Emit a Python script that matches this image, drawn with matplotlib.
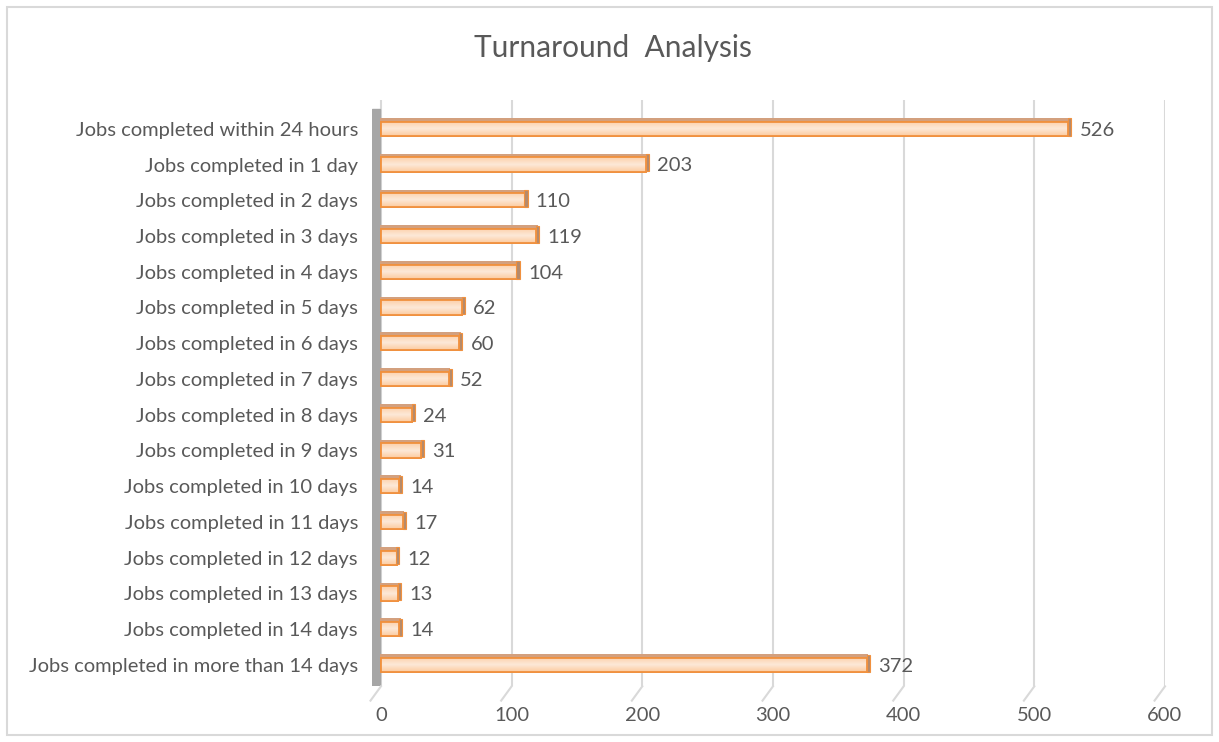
import numpy as np
import matplotlib.pyplot as plt
from matplotlib.colors import LinearSegmentedColormap
from matplotlib.patches import Rectangle

plt.rcParams['font.family'] = ['Lato', 'DejaVu Sans']

categories = ['Jobs completed within 24 hours', 'Jobs completed in 1 day', 'Jobs completed in 2 days',
              'Jobs completed in 3 days', 'Jobs completed in 4 days', 'Jobs completed in 5 days',
              'Jobs completed in 6 days', 'Jobs completed in 7 days', 'Jobs completed in 8 days',
              'Jobs completed in 9 days', 'Jobs completed in 10 days', 'Jobs completed in 11 days',
              'Jobs completed in 12 days', 'Jobs completed in 13 days', 'Jobs completed in 14 days',
              'Jobs completed in more than 14 days']
values = [526, 203, 110, 119, 104, 62, 60, 52, 24, 31, 14, 17, 12, 13, 14, 372]
x_ticks = [0, 100, 200, 300, 400, 500, 600]

grey = '#595959'
fig = plt.figure(figsize=(12.19, 7.42), dpi=100)
ax = fig.add_axes([0.305, 0.075, 0.6507, 0.79])

# outer chart border
fig.patches.append(Rectangle((0.006, 0.009), 0.988, 0.981, transform=fig.transFigure,
                             fill=False, edgecolor='#d9d9d9', lw=1.5))

y = np.arange(len(categories))[::-1]
vals = np.array(values)
h = 0.40
depth = 0.1

# top face of the 3D bars
ax.barh(y + h / 2 + depth / 2, vals + 1.5, left=-0.5, height=depth, color='#d3a07e',
        edgecolor='none', zorder=2.8)

bars = ax.barh(y, vals, height=h, color='#fcd2ac', edgecolor='#f0913f', lw=1.3, zorder=3)

# gradient fill inside each bar
cmap = LinearSegmentedColormap.from_list('peach', ['#fccb9f', '#fde9d8', '#fcd0aa'])
grad = np.linspace(0, 1, 50).reshape(-1, 1)
for b in bars:
    x0, y0 = b.get_x(), b.get_y()
    im = ax.imshow(grad, cmap=cmap, aspect='auto', origin='lower', zorder=3.5,
                   extent=[x0, x0 + b.get_width(), y0, y0 + b.get_height()])
    im.set_clip_path(b)
    ax.add_patch(Rectangle((x0, y0), b.get_width(), b.get_height(), fill=False,
                           edgecolor='#f0913f', lw=1.3, zorder=4))

# darker end face
cap = 2.5
ax.barh(y + depth / 2, [cap] * len(vals), left=vals - 0.3, height=h + depth * 0.8,
        color='#b48a6c', edgecolor='#f0913f', lw=0.8, zorder=5)

# grey side wall
ax.axvspan(-7, -1, ymin=0.0, ymax=0.985, color='#a6a6a6', zorder=2)

for yi, v in zip(y, values):
    ax.annotate(str(v), (v, yi), xytext=(8, -1), textcoords='offset points',
                va='center', ha='left', fontsize=14.5, color=grey)

ax.set_xlim(-7, 600)
ax.set_ylim(-0.6, 15.8)
ax.set_yticks(y)
ax.set_yticklabels(categories, fontsize=14.5, color=grey)
ax.set_xticks(x_ticks)
ax.set_xticklabels([str(t) for t in x_ticks], fontsize=14.5, color=grey)
ax.tick_params(axis='x', length=0, pad=15)
ax.tick_params(axis='y', length=0, pad=10)
ax.grid(axis='x', color='#d9d9d9', lw=1.5, zorder=0)
for s in ax.spines.values():
    s.set_visible(False)

# small perspective stubs under the gridlines
for t in x_ticks:
    ax.plot([t, t - 8], [-0.6, -1.0], color='#d9d9d9', lw=1.5, clip_on=False)

fig.text(0.503, 0.935, 'Turnaround  Analysis', ha='center', va='center', fontsize=21.5, color=grey)

fig.savefig('out.png', dpi=100)
